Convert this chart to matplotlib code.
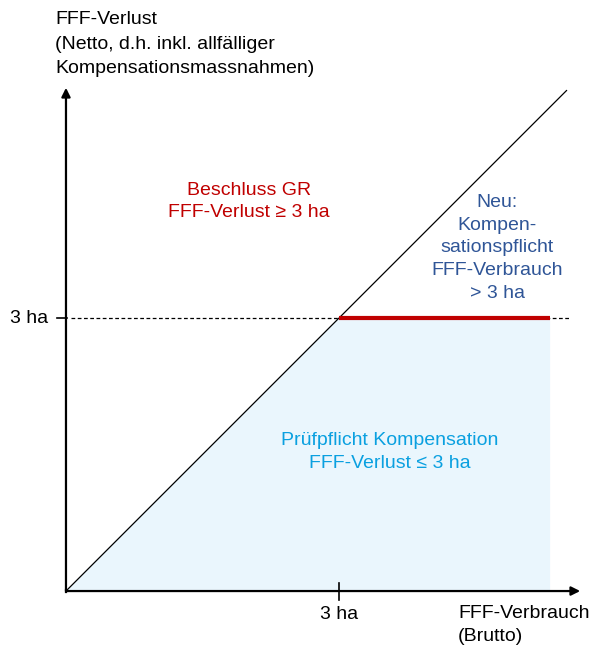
import matplotlib.pyplot as plt

plt.rcParams['font.family'] = ['Liberation Sans', 'DejaVu Sans']

# values in ha
schwelle = 3          # 3 ha threshold
diag_x = [0, 5.5]     # Netto = Brutto line
diag_y = [0, 5.5]
grenze_ende = 5.32    # end of red line / blue area
x_max = 5.65
y_max = 5.53

fig = plt.figure(figsize=(5.9, 6.45), dpi=100)
ax = fig.add_axes([0, 0, 1, 1])
ax.set_xlim(-0.725, 5.758)
ax.set_ylim(-0.593, 6.495)
ax.axis('off')

# light blue area (Pruefpflicht)
ax.fill([0, schwelle, grenze_ende, grenze_ende], [0, schwelle, schwelle, 0],
        color='#EAF6FD', lw=0, zorder=1)

# diagonal
ax.plot(diag_x, diag_y, color='black', lw=0.9, zorder=3)

# dashed 3 ha line
ax.plot([0.05, 5.53], [schwelle, schwelle], color='black', lw=0.9,
        ls=(0, (3, 2)), zorder=2)

# red line
ax.plot([schwelle, grenze_ende], [schwelle, schwelle], color='#C00000', lw=3,
        solid_capstyle='butt', zorder=4)

# axes with arrows
ax.annotate('', xy=(x_max, 0), xytext=(0, 0),
            arrowprops=dict(arrowstyle='-|>', lw=1.6, color='black',
                            mutation_scale=13, shrinkA=0, shrinkB=0), zorder=5)
ax.annotate('', xy=(0, y_max), xytext=(0, 0),
            arrowprops=dict(arrowstyle='-|>', lw=1.6, color='black',
                            mutation_scale=13, shrinkA=0, shrinkB=0), zorder=5)
ax.plot([0, 0], [-0.01, 0.01], color='black', lw=1.6)

# ticks
ax.plot([schwelle, schwelle], [-0.1, 0.09], color='black', lw=1.2, zorder=5)
ax.plot([-0.1, 0.01], [schwelle, schwelle], color='black', lw=1.2, zorder=5)

fs = 14
ls = 1.45
ax.text(-0.2, schwelle, '3 ha', ha='right', va='center', fontsize=fs)
ax.text(schwelle, -0.16, '3 ha', ha='center', va='top', fontsize=fs)
ax.text(4.31, -0.15, 'FFF-Verbrauch\n(Brutto)', ha='left', va='top', fontsize=fs,
        linespacing=ls)
ax.text(-0.12, 6.37, 'FFF-Verlust\n(Netto, d.h. inkl. allfälliger\nKompensationsmassnahmen)',
        ha='left', va='top', fontsize=fs, linespacing=1.58)

ax.text(2.01, 4.28, 'Beschluss GR\nFFF-Verlust ≥ 3 ha', ha='center', va='center',
        fontsize=fs, color='#C00000', linespacing=ls)
ax.text(4.74, 3.77, 'Neu:\nKompen-\nsationspflicht\nFFF-Verbrauch\n> 3 ha',
        ha='center', va='center', fontsize=fs, color='#2F5597', linespacing=ls)
ax.text(3.56, 1.53, 'Prüfpflicht Kompensation\nFFF-Verlust ≤ 3 ha',
        ha='center', va='center', fontsize=fs, color='#0AA0E0', linespacing=ls)

fig.savefig('out.png', dpi=100)
